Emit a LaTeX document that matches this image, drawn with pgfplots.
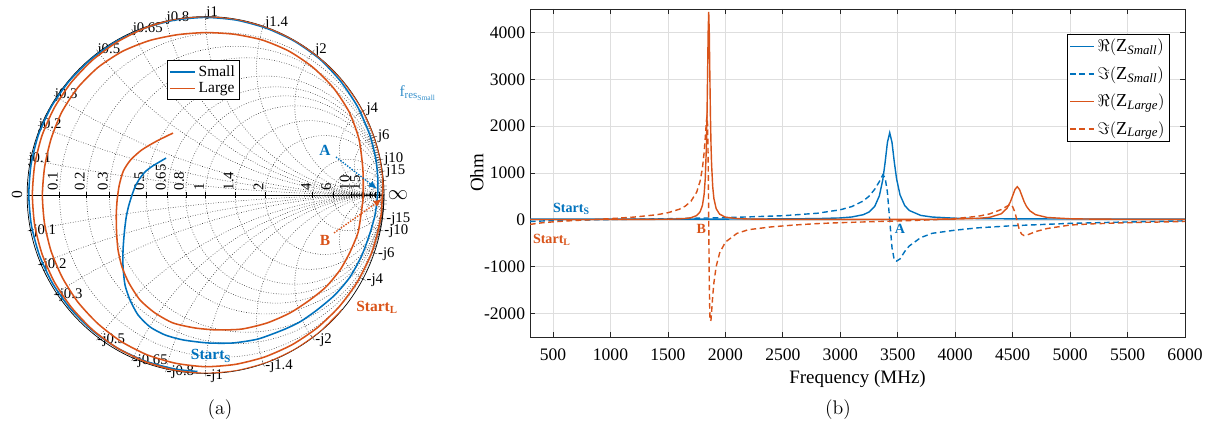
\documentclass[border=0pt]{standalone}
\usepackage{amsmath}
\usepackage{fontspec}
\setmainfont{Liberation Serif}
\usepackage{pgfplots}
\pgfplotsset{compat=1.18}
\usepgfplotslibrary{smithchart}
\usetikzlibrary{arrows.meta}
\definecolor{mblue}{RGB}{0,114,189}
\definecolor{morange}{RGB}{217,83,25}
\pgfplotsset{/pgf/number format/assume math mode=true, /pgf/number format/1000 sep={}}
\newcommand{\fs}[1]{\fontsize{#1}{#1}\selectfont}
\begin{document}
\begin{tikzpicture}
\useasboundingbox (0,0) rectangle (860.67pt,-307.28pt);
% ---------------- (a) Smith chart ----------------
\begin{smithchart}[
  at={(146.17pt,-138.70pt)}, anchor=center,
  width=253.9pt, scale only axis,
  xtick={0.1,0.2,0.3,0.5,0.65,0.8,1,1.4,2,4,6,10,15},
  ytick={-15,-10,-6,-4,-2,-1.4,-1,-0.8,-0.65,-0.5,-0.3,-0.2,-0.1,0.1,0.2,0.3,0.5,0.65,0.8,1,1.4,2,4,6,10,15},
  extra x ticks={25,40,70},
  extra x tick labels={},
  extra y ticks={-70,-40,-25,25,40,70},
  extra y tick labels={},
  xticklabel={\pgfmathprintnumber{\tick}},
  yticklabel={\ifdim\tick pt<0pt -j\pgfmathparse{abs(\tick)}\pgfmathprintnumber{\pgfmathresult}\else j\pgfmathprintnumber{\tick}\fi},
  xticklabel style={rotate=90, anchor=south west, inner sep=1pt, font=\fs{10.5}},
  yticklabel style={anchor=west, inner sep=0.5pt, font=\fs{10.5}},
  grid style={black!80, line width=0.4pt, dash pattern=on 0.5pt off 1.3pt},
  axis line style={black, line width=0.5pt},
  legend style={at={(0.494,0.878)}, anchor=north, draw=black, line width=0.5pt, fill=white, font=\fs{11}, inner sep=1.5pt, row sep=-1pt},
  legend cell align=left,
  legend image code/.code={\draw[#1, line width=1.1pt] (0pt,0pt) -- (18pt,0pt);},
]
\addplot[mblue, line width=1.1pt, is smithchart cs, smooth, tension=0.4] coordinates {
(-0.045,-0.989) (-0.172,-0.975) (-0.339,-0.930) (-0.495,-0.857) (-0.636,-0.758) (-0.758,-0.636) (-0.857,-0.495) (-0.930,-0.339) (-0.975,-0.172) (-0.990,0) (-0.977,0.173) (-0.935,0.340) (-0.862,0.498) (-0.762,0.640) (-0.640,0.762) (-0.498,0.862) (-0.340,0.935) (-0.173,0.980) (0,0.995) (0.173,0.980) (0.340,0.935) (0.498,0.862) (0.640,0.762) (0.758,0.636) (0.853,0.493) (0.921,0.335) (0.954,0.203) (0.965,0.101)
(0.966,0.028) (0.961,-0.028) (0.950,-0.112) (0.922,-0.213) (0.877,-0.336) (0.810,-0.459) (0.725,-0.560) (0.625,-0.644) (0.529,-0.711) (0.434,-0.756) (0.294,-0.807) (0.154,-0.829) (0.014,-0.829) (-0.126,-0.812) (-0.227,-0.784) (-0.311,-0.739) (-0.378,-0.672) (-0.423,-0.588) (-0.451,-0.504) (-0.462,-0.403) (-0.462,-0.308) (-0.455,-0.213) (-0.445,-0.129) (-0.432,-0.067) (-0.415,-0.010) (-0.395,0.045) (-0.370,0.090) (-0.339,0.129) (-0.300,0.160) (-0.221,0.207)
};
\addlegendentry{Small}
\addplot[morange, line width=1.1pt, is smithchart cs, smooth, tension=0.4] coordinates {
(0.766,-0.643) (0.643,-0.766) (0.500,-0.866) (0.342,-0.940) (0.174,-0.985) (0,-1.0) (-0.173,-0.982) (-0.340,-0.933) (-0.495,-0.857) (-0.633,-0.755) (-0.751,-0.630) (-0.846,-0.489) (-0.915,-0.333) (-0.957,-0.169) (-0.970,0) (-0.957,0.169) (-0.916,0.333) (-0.847,0.489) (-0.752,0.631) (-0.634,0.755) (-0.495,0.857) (-0.340,0.935) (-0.174,0.985) (0,1.0) (0.174,0.985) (0.342,0.940) (0.500,0.866) (0.643,0.766) (0.766,0.643) (0.866,0.500) (0.940,0.342) (0.978,0.208) (0.993,0.104) (0.994,0.035) (0.990,-0.017) (0.985,-0.103) (0.966,-0.205) (0.926,-0.337) (0.849,-0.490) (0.748,-0.627) (0.625,-0.745) (0.485,-0.839) (0.330,-0.908) (0.167,-0.949) (0,-0.962) (-0.166,-0.943) (-0.326,-0.896) (-0.474,-0.820) (-0.604,-0.720) (-0.715,-0.600) (-0.802,-0.463) (-0.865,-0.315) (-0.902,-0.159) (-0.914,0) (-0.901,0.159) (-0.865,0.315) (-0.805,0.465) (-0.716,0.601) (-0.601,0.716) (-0.465,0.805) (-0.315,0.865) (-0.158,0.898) (0,0.910) (0.159,0.901) (0.316,0.869) (0.466,0.807) (0.601,0.716) (0.716,0.601) (0.805,0.465) (0.860,0.313) (0.881,0.155) (0.884,0.046)
(0.882,-0.028) (0.871,-0.112) (0.854,-0.213) (0.810,-0.319) (0.754,-0.420) (0.675,-0.515) (0.585,-0.588) (0.473,-0.661) (0.345,-0.717) (0.204,-0.751) (0.064,-0.756) (-0.059,-0.745) (-0.182,-0.717) (-0.283,-0.661) (-0.367,-0.588) (-0.429,-0.493) (-0.468,-0.403) (-0.490,-0.308) (-0.498,-0.213) (-0.500,-0.112) (-0.495,-0.028) (-0.483,0.056) (-0.460,0.135) (-0.420,0.196) (-0.358,0.252) (-0.272,0.303) (-0.182,0.347)
};
\addlegendentry{Large}
\end{smithchart}
% annotations (a)
\node[rotate=90, font=\fs{11}] at (12.1pt,-138.7pt) {0};
\node[font=\fs{15}] at (283.1pt,-138.7pt) {$\infty$};
\node[text=mblue, font=\bfseries\fs{11}] at (231.2pt,-106.7pt) {A};
\draw[mblue, line width=1pt, dash pattern=on 1pt off 1pt, -{Latex[length=6pt,width=5pt]}] (239.0pt,-111.7pt) -- (268.2pt,-134.4pt);
\node[text=morange, font=\bfseries\fs{11}] at (231.2pt,-170.7pt) {B};
\draw[morange, line width=1pt, dash pattern=on 1pt off 1pt, -{Latex[length=6pt,width=5pt]}] (237.6pt,-165.7pt) -- (271.7pt,-141.5pt);
\node[text=mblue, font=\bfseries\fs{11}] at (150.1pt,-253.2pt) {Start\textsubscript{S}};
\node[text=morange, font=\bfseries\fs{11}] at (268.2pt,-218.4pt) {Start\textsubscript{L}};
\node[text=mblue!80, font=\fs{11}] at (297.3pt,-66.2pt) {f\textsubscript{res\textsubscript{Small}}};
\node[font=\fs{14}] at (156.5pt,-291.6pt) {\fontfamily{lmr}\selectfont (a)};
\node[font=\fs{14}] at (596.1pt,-291.6pt) {\fontfamily{lmr}\selectfont (b)};
% ---------------- (b) frequency plot ----------------
\begin{axis}[
  at={(377.0pt,-239.7pt)}, anchor=south west,
  scale only axis, width=465.9pt, height=233.3pt,
  xmin=300, xmax=6000, ymin=-2500, ymax=4500,
  xtick={500,1000,...,6000}, ytick={-2000,-1000,...,4000},
  tick align=inside, tick pos=both, major tick length=3.6pt,
  grid=major, grid style={black!13, line width=0.5pt},
  axis line style={line width=0.6pt, black!85},
  tick style={black!85, line width=0.6pt},
  xlabel={Frequency (MHz)}, ylabel={Ohm},
  ylabel style={at={(axis description cs:-0.081,0.5)}, anchor=center},
  tick label style={font=\fs{12.5}},
  xticklabel style={yshift=-5pt},
  label style={font=\fs{13.5}},
  scaled ticks=false,
  legend style={at={(0.977,0.924)}, anchor=north east, draw=black, line width=0.6pt, font=\fs{13}, inner sep=1.5pt, row sep=5pt},
  legend cell align=left,
  legend image code/.code={\draw[#1, line width=1pt] (0pt,0pt) -- (17pt,0pt);},
]
\addplot[mblue, line width=1pt] coordinates {(300,15)(500,15)(700,15)(1000,15)(1500,16)(2000,17)(2500,20)(2800,27)(3000,41)(3100,61)(3200,110)(3250,167)(3300,289)(3340,513)(3370,857)(3390,1224)(3410,1650)(3430,1860)(3450,1653)(3470,1234)(3490,873)(3520,532)(3560,308)(3600,200)(3700,95)(3800,60)(4000,35)(4200,27)(4500,21)(5000,18)(5500,17)(6000,16)};
\addlegendentry{$\Re(\text{Z}_{\text{\itshape Small}})$}
\addplot[mblue, line width=1pt, dash pattern=on 4pt off 2.5pt] coordinates {(300,-35)(500,-15)(700,-4)(1000,7)(1500,24)(2000,47)(2500,88)(2800,141)(3000,215)(3100,283)(3200,403)(3250,504)(3300,654)(3340,817)(3370,960)(3390,900)(3410,589)(3430,-4)(3450,-593)(3470,-860)(3490,-880)(3520,-833)(3560,-678)(3600,-558)(3700,-379)(3800,-287)(4000,-220)(4200,-170)(4500,-125)(5000,-75)(5500,-45)(6000,-22)};
\addlegendentry{$\Im(\text{Z}_{\text{\itshape Small}})$}
\addplot[morange, line width=1pt] coordinates {(300,8)(400,8)(500,8)(600,8)(800,8)(1000,9)(1200,9)(1400,12)(1500,14)(1600,21)(1650,29)(1700,45)(1750,91)(1780,171)(1800,305)(1815,542)(1825,880)(1835,1583)(1840,2201)(1845,3065)(1850,3992)(1855,4440)(1860,3994)(1865,3072)(1870,2223)(1875,1603)(1880,1187)(1890,702)(1900,457)(1920,238)(1950,121)(2000,58)(2100,27)(2200,18)(2400,12)(2600,11)(2800,10)(3000,10)(3200,10)(3500,11)(3800,13)(4000,17)(4200,31)(4300,54)(4400,129)(4450,245)(4480,383)(4500,514)(4520,647)(4540,708)(4560,647)(4580,517)(4600,388)(4620,289)(4650,192)(4700,110)(4800,51)(5000,23)(5200,16)(5500,12)(6000,10)};
\addlegendentry{$\Re(\text{Z}_{\text{\itshape Large}})$}
\addplot[morange, line width=1pt, dash pattern=on 4pt off 2.5pt] coordinates {(300,-97)(400,-64)(500,-43)(600,-26)(800,0)(1000,26)(1200,58)(1400,108)(1500,152)(1600,227)(1650,291)(1700,395)(1750,591)(1780,825)(1800,1099)(1815,1434)(1825,1752)(1835,2111)(1840,2206)(1845,2039)(1850,1326)(1855,-9)(1860,-1340)(1865,-2055)(1870,-2160)(1875,-2135)(1880,-1967)(1890,-1620)(1900,-1346)(1920,-993)(1950,-707)(2000,-476)(2100,-290)(2200,-210)(2400,-150)(2600,-110)(2800,-80)(3000,-60)(3200,-45)(3500,-24)(3800,1)(4000,27)(4200,77)(4300,127)(4400,220)(4450,290)(4480,330)(4500,280)(4520,160)(4540,-40)(4560,-230)(4580,-310)(4600,-335)(4620,-330)(4650,-300)(4700,-250)(4800,-185)(5000,-110)(5200,-85)(5500,-60)(6000,-35)};
\addlegendentry{$\Im(\text{Z}_{\text{\itshape Large}})$}
\node[text=mblue, font=\bfseries\fs{10}] at (axis cs:660,230) {Start\textsubscript{S}};
\node[text=morange, font=\bfseries\fs{10}] at (axis cs:490,-420) {Start\textsubscript{L}};
\node[text=morange, font=\bfseries\fs{10}] at (axis cs:1790,-200) {B};
\node[text=mblue, font=\bfseries\fs{10}] at (axis cs:3520,-200) {A};
\end{axis}
\end{tikzpicture}
\end{document}
